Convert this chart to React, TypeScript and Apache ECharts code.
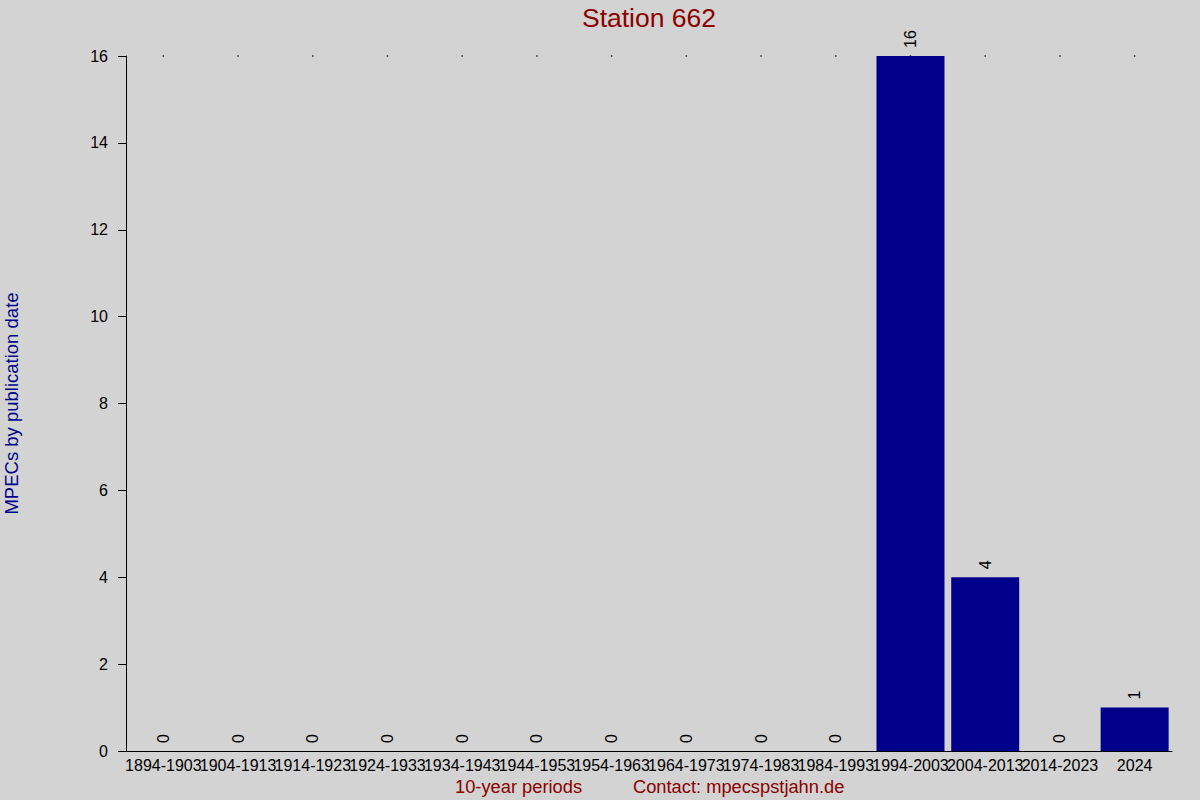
import React, { useEffect, useRef } from 'react';
import * as echarts from 'echarts';

const periods = [
  '1894-1903', '1904-1913', '1914-1923', '1924-1933', '1934-1943', '1944-1953', '1954-1963',
  '1964-1973', '1974-1983', '1984-1993', '1994-2003', '2004-2013', '2014-2023', '2024',
];
const counts = [0, 0, 0, 0, 0, 0, 0, 0, 0, 0, 16, 4, 0, 1];
const topMarks = periods.map(() => 16);
const yTicks = [0, 2, 4, 6, 8, 10, 12, 14, 16];

const FONT = '"Liberation Sans", Arial, sans-serif';

export default function App() {
  const ref = useRef<HTMLDivElement>(null);

  useEffect(() => {
    if (!ref.current) return;
    const chart = echarts.init(ref.current, null, { renderer: 'svg' });
    chart.setOption({
      animation: false,
      backgroundColor: '#D3D3D3',
      textStyle: { fontFamily: FONT },
      grid: { left: 126, right: 28, top: 56, bottom: 49, outerBoundsMode: 'none' },
      xAxis: {
        type: 'category',
        data: periods,
        axisLine: { lineStyle: { color: '#000', width: 1 } },
        axisTick: { show: false },
        axisLabel: { color: '#000', fontSize: 16, interval: 0, margin: 6, fontFamily: FONT },
      },
      yAxis: {
        type: 'value',
        min: yTicks[0],
        max: yTicks[yTicks.length - 1],
        interval: 2,
        name: 'MPECs by publication date',
        nameLocation: 'middle',
        nameGap: 105,
        nameTextStyle: { color: '#00008B', fontSize: 18.5, fontFamily: FONT },
        axisLine: { show: true, lineStyle: { color: '#000', width: 1 } },
        axisTick: { show: true, length: 8, lineStyle: { color: '#000' } },
        axisLabel: { color: '#000', fontSize: 16, margin: 18, fontFamily: FONT },
        splitLine: { show: false },
      },
      series: [
        {
          type: 'bar',
          data: counts,
          barCategoryGap: '9%',
          itemStyle: { color: '#00008B' },
          label: {
            show: true,
            position: 'top',
            rotate: 90,
            align: 'left',
            verticalAlign: 'middle',
            distance: 8,
            color: '#000',
            fontSize: 16,
            fontFamily: FONT,
          },
        },
        {
          type: 'scatter',
          data: topMarks,
          symbol: 'rect',
          symbolSize: 1.5,
          itemStyle: { color: '#000' },
          z: 1,
        },
      ],
      graphic: [
        {
          type: 'text',
          x: 649,
          y: 18,
          style: {
            text: 'Station 662',
            fill: '#8B0000',
            fontSize: 26.5,
            fontFamily: FONT,
            align: 'center',
            verticalAlign: 'middle',
          },
        },
        {
          type: 'text',
          x: 455,
          y: 786,
          style: {
            text: '10-year periods',
            fill: '#8B0000',
            fontSize: 18.3,
            fontFamily: FONT,
            verticalAlign: 'middle',
          },
        },
        {
          type: 'text',
          x: 633,
          y: 786,
          style: {
            text: 'Contact: mpecspstjahn.de',
            fill: '#8B0000',
            fontSize: 18.3,
            fontFamily: FONT,
            verticalAlign: 'middle',
          },
        },
      ],
    });
    return () => chart.dispose();
  }, []);

  return (
    <div
      ref={ref}
      style={{ position: 'fixed', left: 0, top: 0, width: 1200, height: 800 }}
    />
  );
}
